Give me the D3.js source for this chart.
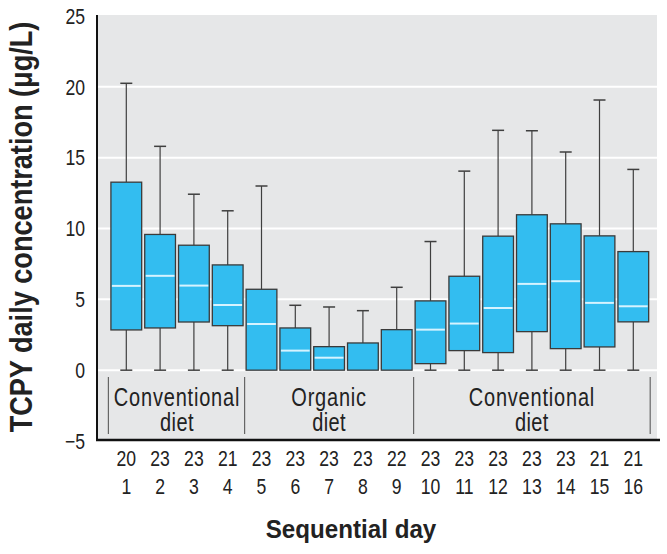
<!DOCTYPE html>
<html><head><meta charset="utf-8">
<script src="https://cdn.jsdelivr.net/npm/d3@7"></script>
<style>
body{margin:0;background:#fff;}
text{font-family:"Liberation Sans Narrow","Arial Narrow","Liberation Sans",Arial,sans-serif;}
</style></head>
<body><svg id="c" width="667" height="554"></svg>
<script>
const days = [1,2,3,4,5,6,7,8,9,10,11,12,13,14,15,16];
const counts = [20,23,23,21,23,23,23,23,22,23,23,23,23,23,21,21];
const whiskerLow = [0,0,0,0,0,0,0,0,0,0,0,0,0,0,0,0];
const q1 = [2.84,2.98,3.4,3.14,0,0,0,0,0,0.46,1.38,1.24,2.72,1.52,1.64,3.41];
const median = [5.95,6.66,5.97,4.6,3.26,1.38,0.88,null,null,2.86,3.29,4.39,6.09,6.28,4.75,4.51];
const q3 = [13.27,9.58,8.82,7.43,5.71,2.98,1.66,1.92,2.86,4.89,6.63,9.46,10.97,10.33,9.48,8.37];
const whiskerHigh = [20.25,15.8,12.42,11.25,13.0,4.58,4.46,4.2,5.85,9.08,14.05,16.93,16.9,15.4,19.07,14.17];
const groupTop = ["Conventional","Organic","Conventional"];
const groupBottom = ["diet","diet","diet"];
const groupFrom = [0,4,9];
const groupTo = [3,8,15];
const yTicks = [-5,0,5,10,15,20,25];
const gridVals = [0,5,10,15,20];

const svg = d3.select("#c");
const x = d3.scaleBand().domain(days).range([109.4,650.2]).paddingInner(0.09).paddingOuter(0.045);
const y = d3.scaleLinear().domain([-5,25]).range([441,16]);
const plotL = 97, plotR = 657, plotT = 15, plotB = 440;

function label(px, py, str, size, anchor, sx, opts) {
  opts = opts || {};
  const t = svg.append("text")
    .attr("transform", `translate(${px},${py})${opts.rotate?` rotate(${opts.rotate})`:""} scale(${sx},1)`)
    .attr("text-anchor", anchor).attr("font-size", size).attr("fill", "#222").text(str);
  if (opts.bold) t.attr("font-weight", "bold");
  if (opts.ls) t.attr("letter-spacing", opts.ls);
  if (opts.dy) t.attr("dy", opts.dy);
  return t;
}

svg.append("rect").attr("x",plotL).attr("y",plotT).attr("width",plotR-plotL).attr("height",plotB-plotT).attr("fill","#e6e7e8");
svg.append("g").selectAll("line").data(gridVals).join("line")
  .attr("x1",plotL).attr("x2",plotR).attr("y1",d=>y(d)).attr("y2",d=>y(d))
  .attr("stroke","#fff").attr("stroke-width",2);

// y axis (ticks through the scale; labels narrowed)
const yAxis = d3.axisLeft(y).tickValues(yTicks).tickSize(0).tickFormat("");
const ga = svg.append("g").attr("transform",`translate(${plotL},0)`).call(yAxis);
ga.select(".domain").remove();
yTicks.forEach(v => label(85, y(v), v<0 ? "\u2212"+Math.abs(v) : String(v), 22, "end", 0.8, {dy:"0.35em"}));
svg.append("line").attr("x1",plotL).attr("x2",plotL).attr("y1",plotT).attr("y2",plotB+1).attr("stroke","#111").attr("stroke-width",2);
svg.append("line").attr("x1",plotL-1).attr("x2",plotR+3).attr("y1",plotB).attr("y2",plotB).attr("stroke","#111").attr("stroke-width",2.5);

// boxes
const bw = x.bandwidth();
const capW = 12;
const g = svg.append("g");
days.forEach((d,i)=>{
  const cx = x(d)+bw/2;
  const col = "#3f3f3f";
  if (whiskerHigh[i] > q3[i]) {
    g.append("line").attr("x1",cx).attr("x2",cx).attr("y1",y(whiskerHigh[i])).attr("y2",y(q3[i])).attr("stroke",col).attr("stroke-width",1.2);
    g.append("line").attr("x1",cx-capW/2).attr("x2",cx+capW/2).attr("y1",y(whiskerHigh[i])).attr("y2",y(whiskerHigh[i])).attr("stroke",col).attr("stroke-width",1.5);
  }
  if (q1[i] > whiskerLow[i]) {
    g.append("line").attr("x1",cx).attr("x2",cx).attr("y1",y(q1[i])).attr("y2",y(whiskerLow[i])).attr("stroke",col).attr("stroke-width",1.2);
    g.append("line").attr("x1",cx-capW/2).attr("x2",cx+capW/2).attr("y1",y(whiskerLow[i])).attr("y2",y(whiskerLow[i])).attr("stroke",col).attr("stroke-width",1.5);
  }
  g.append("rect").attr("x",x(d)).attr("y",y(q3[i])).attr("width",bw).attr("height",y(q1[i])-y(q3[i]))
    .attr("fill","#33bdf0").attr("stroke","#3a3a3a").attr("stroke-width",1.3);
  if (median[i] !== null) {
    g.append("line").attr("x1",x(d)+1).attr("x2",x(d)+bw-1).attr("y1",y(median[i])).attr("y2",y(median[i]))
      .attr("stroke","#d6f3ff").attr("stroke-width",2);
  }
});

// group separators and labels
const half = x.step()*x.paddingInner()/2;
const bounds = [x(days[0])-half-1, ...groupTo.map(t=>x(days[t])+bw+half)];
svg.append("g").selectAll("line").data(bounds).join("line")
  .attr("x1",d=>d).attr("x2",d=>d).attr("y1",377).attr("y2",434).attr("stroke","#666").attr("stroke-width",1.2);
groupTop.forEach((t,k)=>{
  const cx = (x(days[groupFrom[k]]) + x(days[groupTo[k]]) + bw)/2;
  label(cx, 406, t, 25, "middle", 0.8, {ls:1});
  label(cx, 431, groupBottom[k], 25, "middle", 0.8, {ls:0.5});
});

// x labels
days.forEach((d,i)=>{
  const cx = x(d)+bw/2;
  label(cx, 466, String(counts[i]), 22, "middle", 0.8);
  label(cx, 494, String(d), 22, "middle", 0.8);
});

label(351, 538, "Sequential day", 26, "middle", 0.93, {bold:true});
label(32, 227, "TCPY daily concentration (\u03BCg/L)", 31, "middle", 0.875, {bold:true, rotate:-90});
</script></body></html>
